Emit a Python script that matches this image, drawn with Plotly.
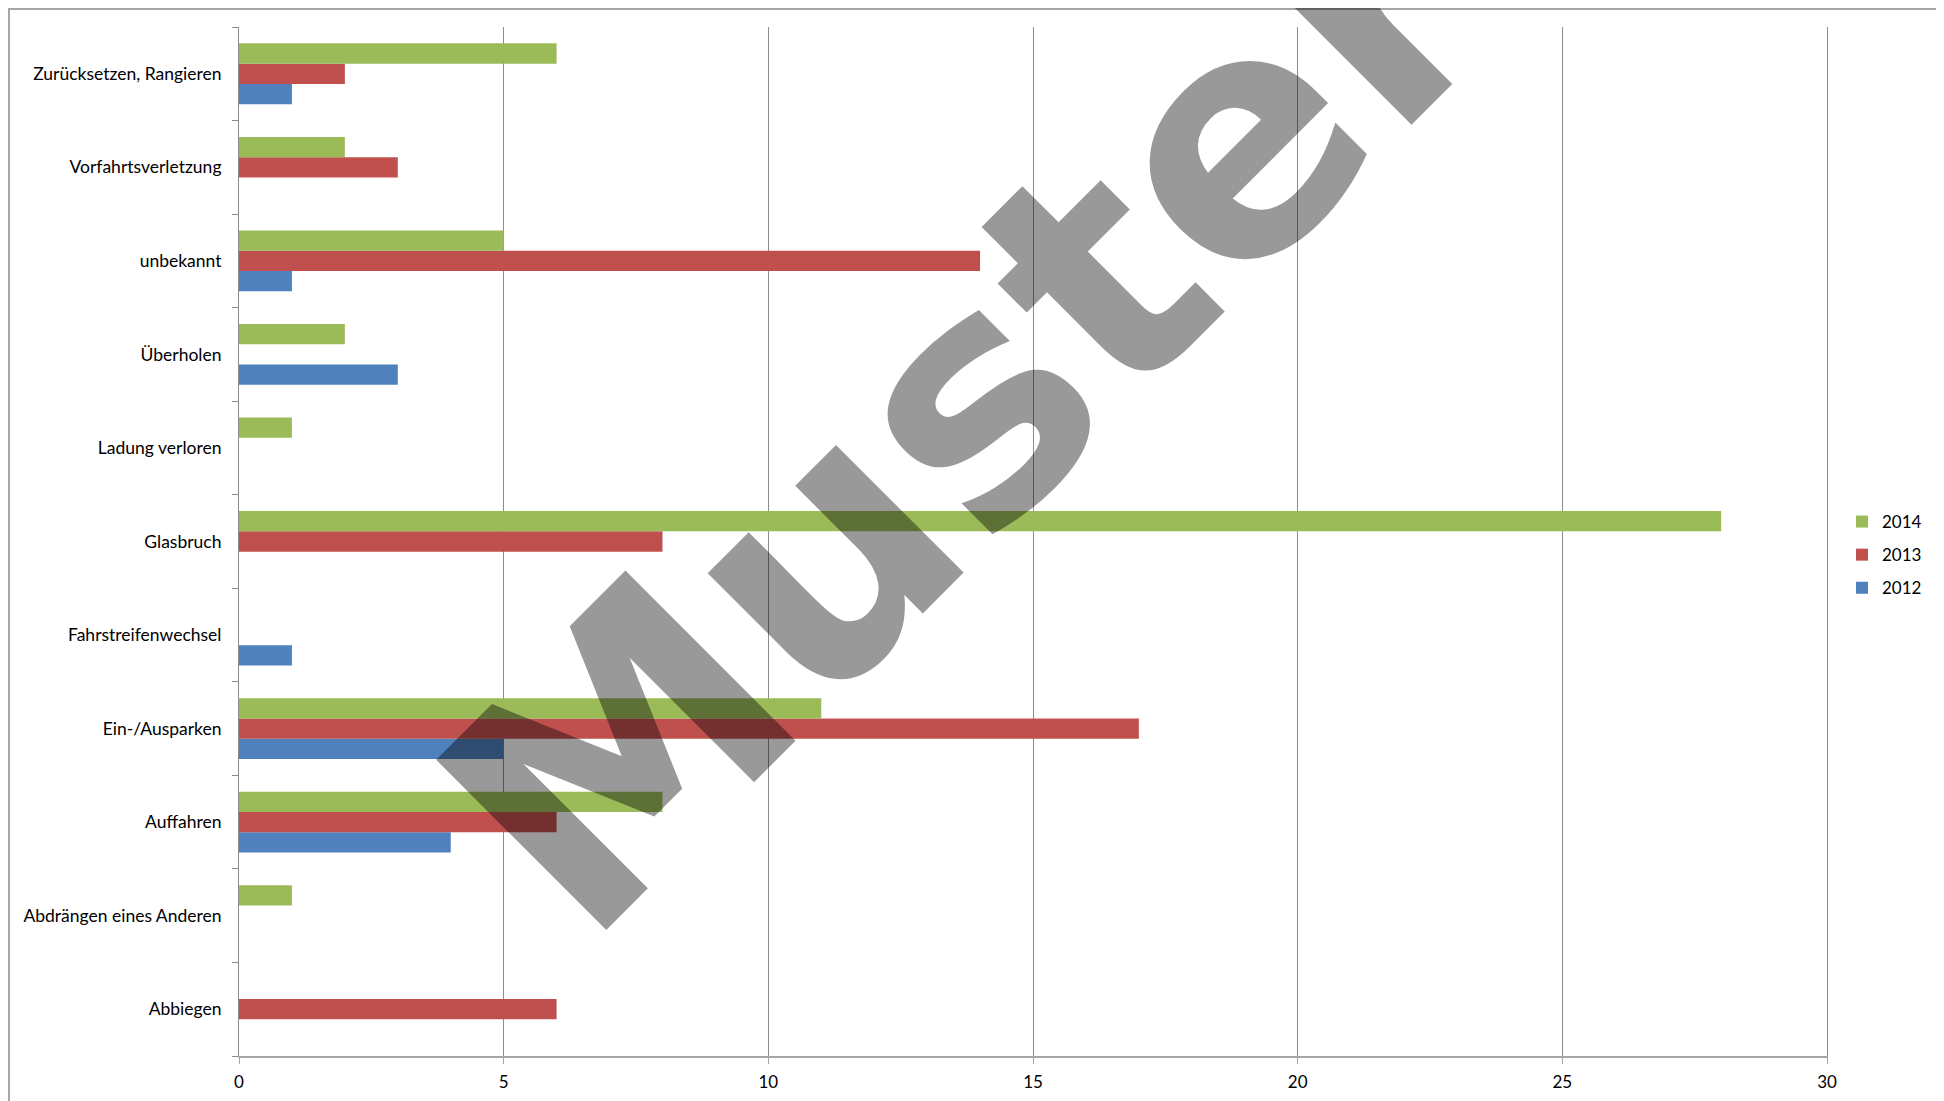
import plotly.graph_objects as go

categories = [
    "Abbiegen",
    "Abdrängen eines Anderen",
    "Auffahren",
    "Ein-/Ausparken",
    "Fahrstreifenwechsel",
    "Glasbruch",
    "Ladung verloren",
    "Überholen",
    "unbekannt",
    "Vorfahrtsverletzung",
    "Zurücksetzen, Rangieren",
]
values_2012 = [0, 0, 4, 5, 1, 0, 0, 3, 1, 0, 1]
values_2013 = [6, 0, 6, 17, 0, 8, 0, 0, 14, 3, 2]
values_2014 = [0, 1, 8, 11, 0, 28, 1, 2, 5, 2, 6]
x_ticks = [0, 5, 10, 15, 20, 25, 30]
watermark = "Muster"

# page offset of the plot div (browser default body margin)
OFF = 8
W, H = 1944, 1101
# plot area in page pixels
L, R, T, B = 239, 1827, 27, 1056
pw, ph = R - L, B - T


def px(x):
    return (x - L) / pw


def py(y):
    return 1 - (y - T) / ph


series = [
    ("2012", values_2012, "#4F81BD", 3),
    ("2013", values_2013, "#C0504D", 2),
    ("2014", values_2014, "#9BBB59", 1),
]

fig = go.Figure()
for name, vals, col, rank in series:
    fig.add_trace(go.Bar(
        y=categories, x=vals, name=name, orientation="h",
        marker=dict(color=col, line=dict(width=0)),
        legendgroup=name, legendrank=rank,
    ))

font = "Lato, Liberation Sans, Arial, sans-serif"
grid = "#8c8c8c"

fig.update_layout(
    width=W, height=H,
    margin=dict(l=L - OFF, r=W - (R - OFF), t=T - OFF, b=H - (B - OFF), pad=0),
    paper_bgcolor="white", plot_bgcolor="white",
    barmode="group", bargap=0.35, bargroupgap=0,
    font=dict(family=font, size=17, color="#000000"),
    showlegend=True,
    legend=dict(
        x=px(1842), y=py(555), xanchor="left", yanchor="middle",
        traceorder="grouped", tracegroupgap=8,
        font=dict(family=font, size=17, color="#000000"),
        itemwidth=30, bgcolor="rgba(0,0,0,0)",
    ),
    xaxis=dict(
        range=[0, 30], tickvals=x_ticks, ticktext=[str(v) for v in x_ticks],
        showgrid=True, gridcolor=grid, gridwidth=1,
        showline=True, linecolor="#a6a6a6", linewidth=2,
        ticks="outside", ticklen=6, tickcolor="#a6a6a6", tickwidth=1,
        zeroline=False, tickfont=dict(size=17), ticklabelstandoff=4,
    ),
    yaxis=dict(
        categoryorder="array", categoryarray=categories,
        range=[-0.5, len(categories) - 0.5],
        showline=True, linecolor=grid, linewidth=1, mirror=True,
        ticks="outside", ticklen=6, tickcolor=grid, tickwidth=1,
        tickson="boundaries", showgrid=False, zeroline=False,
        tickfont=dict(size=17.5), ticklabelstandoff=13,
    ),
    shapes=[dict(
        type="rect", xref="paper", yref="paper",
        x0=px(9), x1=px(1939), y0=py(1130), y1=py(OFF + 1),
        line=dict(color="#a6a6a6", width=2), fillcolor="rgba(0,0,0,0)",
        layer="above",
    )],
    annotations=[dict(
        text="<b>" + watermark + "</b>", xref="paper", yref="paper",
        x=px(966), y=py(409), xanchor="center", yanchor="middle",
        textangle=-45, showarrow=False,
        font=dict(family="DejaVu Sans, sans-serif", size=330,
                  color="rgba(0,0,0,0.4)"),
    )],
)

fig.write_html("out.html")
